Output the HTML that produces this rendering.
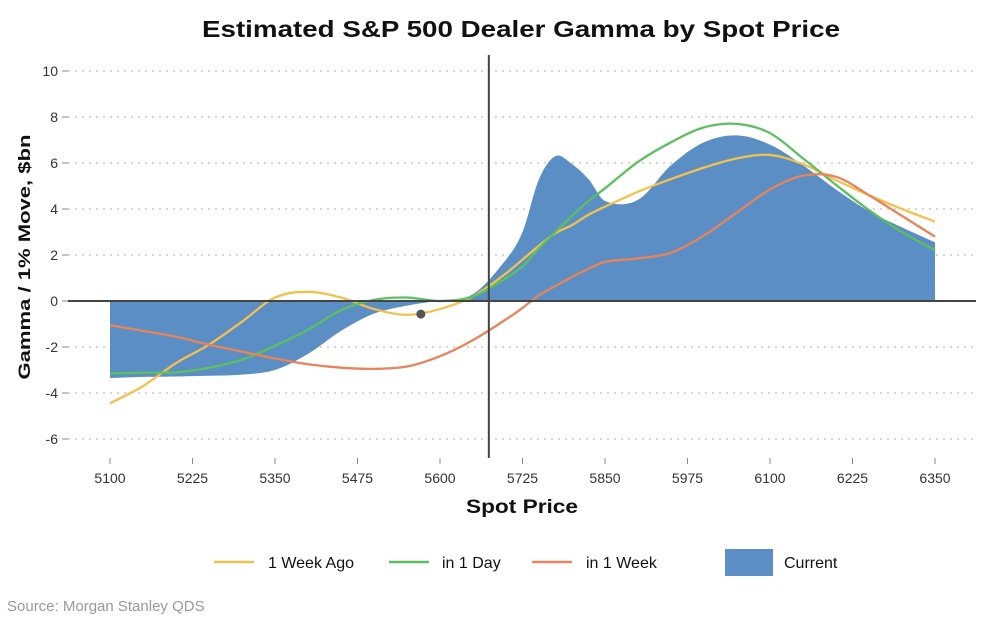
<!DOCTYPE html>
<html><head><meta charset="utf-8"><style>
body{margin:0;background:#fff;font-family:"Liberation Sans",sans-serif;}
svg text{font-family:"Liberation Sans",sans-serif;}
</style></head><body>
<svg id="c" width="989" height="626" viewBox="0 0 989 626">
<text x="521" y="37" text-anchor="middle" font-size="23" font-weight="bold" fill="#111" textLength="638" lengthAdjust="spacingAndGlyphs">Estimated S&amp;P 500 Dealer Gamma by Spot Price</text>
<g id="grid"></g><g id="marks"></g><g id="axes"></g>
<text x="522" y="513" text-anchor="middle" font-size="19" font-weight="bold" fill="#111" textLength="112" lengthAdjust="spacingAndGlyphs">Spot Price</text>
<text transform="translate(30,257) rotate(-90)" text-anchor="middle" font-size="17" font-weight="bold" fill="#111" textLength="245" lengthAdjust="spacingAndGlyphs">Gamma / 1% Move, $bn</text>
<g font-size="16" fill="#111">
<g><line x1="214" y1="562" x2="254" y2="562" stroke="#f2c14e" stroke-width="2.5"/><text x="268" y="568">1 Week Ago</text></g>
<g><line x1="389" y1="562" x2="429" y2="562" stroke="#5cbf60" stroke-width="2.5"/><text x="442" y="568">in 1 Day</text></g>
<g><line x1="532" y1="562" x2="572" y2="562" stroke="#e8845a" stroke-width="2.5"/><text x="586" y="568">in 1 Week</text></g>
<g><rect x="725" y="549" width="48" height="27" fill="#5b8ec4"/><text x="784" y="568">Current</text></g>
</g>
<text x="7" y="611" font-size="15" fill="#999">Source: Morgan Stanley QDS</text>
</svg>
<script>
const spots=[5100,5150,5200,5250,5300,5350,5400,5450,5500,5550,5600,5650,5700,5725,5750,5775,5800,5825,5850,5900,5950,6000,6050,6100,6150,6200,6250,6300,6350];
const current=[-3.35,-3.3,-3.28,-3.25,-3.2,-3.0,-2.3,-1.3,-0.55,-0.2,0.02,0.3,1.8,3.0,5.3,6.3,5.95,5.3,4.35,4.4,5.9,6.9,7.2,6.8,5.9,4.85,3.9,3.2,2.55];
const weekAgo=[-4.45,-3.7,-2.7,-1.9,-0.9,0.15,0.4,0.15,-0.35,-0.6,-0.35,0.2,1.2,1.8,2.4,2.95,3.3,3.75,4.1,4.75,5.3,5.8,6.2,6.35,5.95,5.25,4.6,4.0,3.45];
const inDay=[-3.15,-3.12,-3.1,-2.9,-2.55,-1.95,-1.25,-0.4,0.05,0.15,0.0,0.2,1.0,1.5,2.3,3.0,3.7,4.35,4.9,6.05,6.9,7.55,7.7,7.3,6.2,5.05,3.95,3.0,2.2];
const inWeek=[-1.05,-1.3,-1.55,-1.9,-2.2,-2.5,-2.75,-2.9,-2.95,-2.85,-2.4,-1.7,-0.8,-0.3,0.25,0.65,1.05,1.4,1.7,1.85,2.1,2.85,3.85,4.85,5.45,5.4,4.6,3.7,2.8];
const xTicks=[5100,5225,5350,5475,5600,5725,5850,5975,6100,6225,6350];
const yTicks=[-6,-4,-2,0,2,4,6,8,10];
const currentSpot=5674, marker=[5571,-0.57];
const NS="http://www.w3.org/2000/svg";
const X=v=>110+(v-5100)*0.66, Y=v=>301-v*23;
function mk(t,a,p){const e=document.createElementNS(NS,t);for(const k in a)e.setAttribute(k,a[k]);p.appendChild(e);return e;}
const grid=document.getElementById('grid'),marks=document.getElementById('marks'),axes=document.getElementById('axes');
yTicks.forEach(t=>{
 const l=mk('line',{x1:68,x2:976,y1:Y(t),y2:Y(t),stroke:'#c8c8c8','stroke-width':1.5,'stroke-dasharray':'2 5'},grid);
 
 
 mk('line',{x1:62,x2:68,y1:Y(t),y2:Y(t),stroke:'#888'},axes);
 const tx=mk('text',{x:58,y:Y(t)+5,'text-anchor':'end','font-size':14,fill:'#333'},axes);tx.textContent=t;
 
 
});
xTicks.forEach(t=>{
 mk('line',{x1:X(t),x2:X(t),y1:458,y2:464,stroke:'#888'},axes);
 const tx=mk('text',{x:X(t),y:483,'text-anchor':'middle','font-size':14,fill:'#333'},axes);tx.textContent=t;
 
 
});
function pathD(vals){
 const p=spots.map((s,i)=>[X(s),Y(vals[i])]);const n=p.length;
 const m=p.map((q,i)=>{const a=p[Math.max(i-1,0)],b=p[Math.min(i+1,n-1)];return (b[1]-a[1])/(b[0]-a[0]);});
 let d='M'+p[0][0]+','+p[0][1];
 for(let i=0;i<n-1;i++){const dx=(p[i+1][0]-p[i][0])/3;
  d+=` C${p[i][0]+dx},${p[i][1]+m[i]*dx} ${p[i+1][0]-dx},${p[i+1][1]-m[i+1]*dx} ${p[i+1][0]},${p[i+1][1]}`;}
 return d;}
const area=mk('path',{d:'M'+X(spots[0])+','+Y(0)+' L'+pathD(current).slice(1)+' L'+X(spots[spots.length-1])+','+Y(0)+'Z',fill:'#5b8ec4'},marks);


[[weekAgo,'#f2c14e','line-1-week-ago'],[inDay,'#5cbf60','line-in-1-day'],[inWeek,'#e8845a','line-in-1-week']].forEach(([v,c,n])=>{
 const l=mk('path',{d:pathD(v),fill:'none',stroke:c,'stroke-width':2.3},marks);
 
 
});
const z=mk('line',{x1:68,x2:976,y1:Y(0),y2:Y(0),stroke:'#444','stroke-width':2},axes);


const v=mk('line',{x1:X(currentSpot),x2:X(currentSpot),y1:55,y2:458,stroke:'#444','stroke-width':2},axes);


const dot=mk('circle',{cx:X(marker[0]),cy:Y(marker[1]),r:4.5,fill:'#555'},axes);


</script>
</body></html>
